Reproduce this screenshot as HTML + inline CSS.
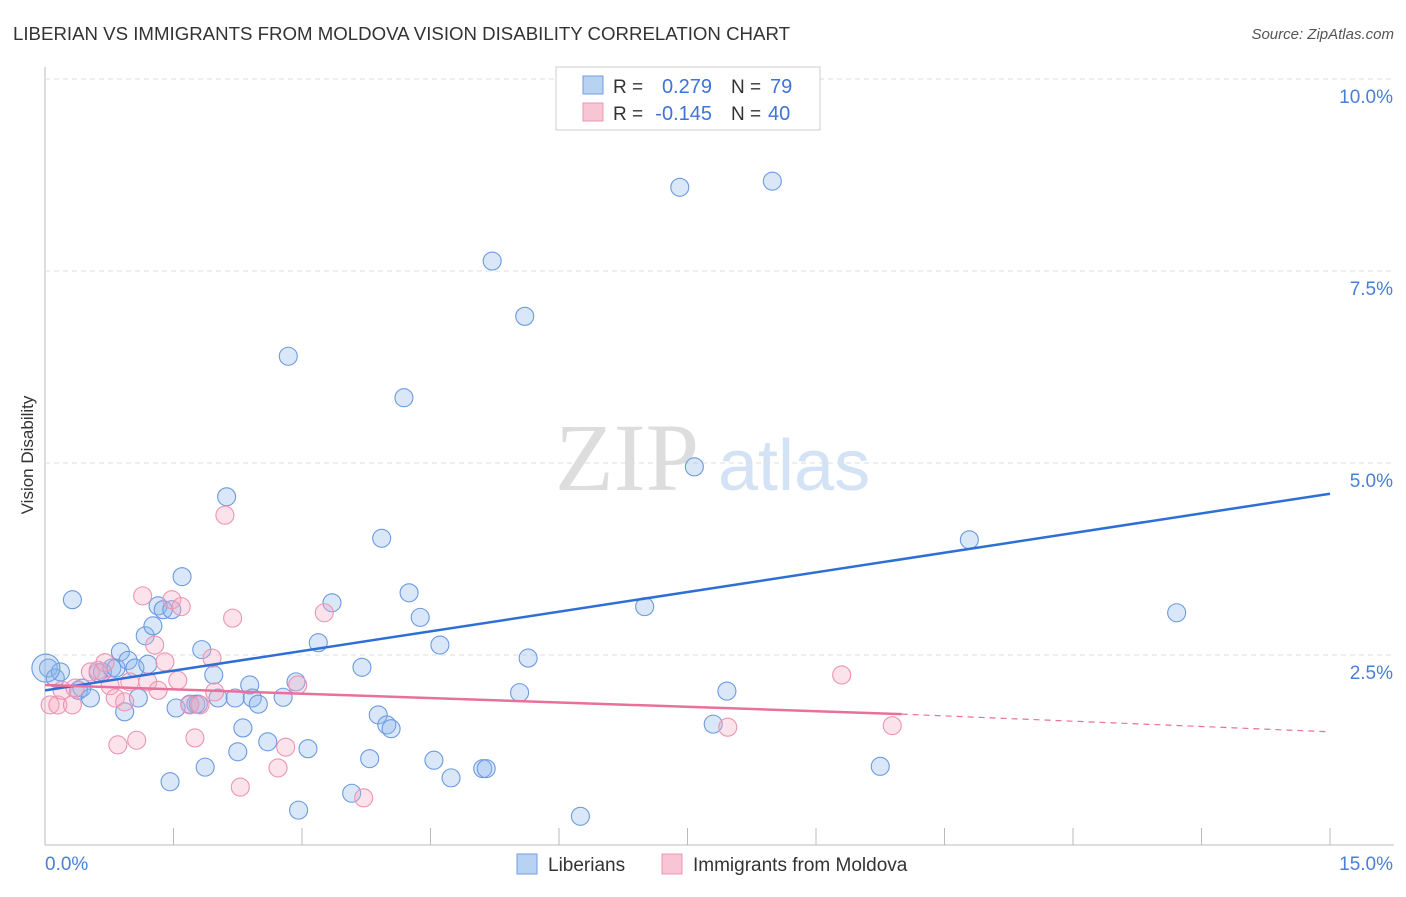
<!DOCTYPE html>
<html><head><meta charset="utf-8"><style>
body{margin:0;background:#fff;font-family:"Liberation Sans",sans-serif}
svg text{font-family:"Liberation Sans",sans-serif}
</style></head><body>
<svg id="c" width="1406" height="892">
<text x="13" y="40" font-size="18" fill="#333" textLength="777" lengthAdjust="spacingAndGlyphs">LIBERIAN VS IMMIGRANTS FROM MOLDOVA VISION DISABILITY CORRELATION CHART</text>
<text x="1394" y="39" font-size="15" fill="#555" font-style="italic" text-anchor="end">Source: ZipAtlas.com</text>
<text x="33" y="455" font-size="17" fill="#333" text-anchor="middle" transform="rotate(-90 33 455)">Vision Disability</text>
<g><text x="555" y="490" font-size="96" fill="#ddd" font-family="Liberation Serif" style="font-family:'Liberation Serif',serif">ZIP</text><text x="718" y="490" font-size="72" fill="#d3e3f5">atlas</text></g>
<g id="grid"></g><g id="pts"></g><g id="lines"></g>
<g>
<rect x="556" y="67" width="264" height="63" fill="#fff" stroke="#ccc"/>
<rect x="583" y="76" width="20" height="18" fill="#b8d2f4" stroke="#6f9ee0"/>
<rect x="583" y="103" width="20" height="18" fill="#f8c5d4" stroke="#ea98b2"/>
<text x="613" y="93" font-size="19" fill="#333">R =</text>
<text x="712" y="93" font-size="20" fill="#3d74d6" text-anchor="end">0.279</text>
<text x="731" y="93" font-size="19" fill="#333">N =</text>
<text x="770" y="93" font-size="20" fill="#3d74d6">79</text>
<text x="613" y="120" font-size="19" fill="#333">R =</text>
<text x="712" y="120" font-size="20" fill="#3d74d6" text-anchor="end">-0.145</text>
<text x="731" y="120" font-size="19" fill="#333">N =</text>
<text x="768" y="120" font-size="20" fill="#3d74d6">40</text>
</g>
<g>
<rect x="517" y="854" width="20" height="20" fill="#b8d2f4" stroke="#6f9ee0"/>
<text x="548" y="871" font-size="19" fill="#333">Liberians</text>
<rect x="662" y="854" width="20" height="20" fill="#f8c5d4" stroke="#ea98b2"/>
<text x="693" y="871" font-size="19" fill="#333">Immigrants from Moldova</text>
</g>
</svg>
<script>
const blueX=[.04,.12,.18,.32,.39,.43,.53,.62,.67,.78,.83,.88,.93,.97,1.05,1.09,1.17,1.20,1.26,1.32,1.38,1.48,1.46,1.53,1.60,1.69,1.76,1.79,1.83,1.87,1.97,2.02,2.12,2.22,2.25,2.31,2.39,2.42,2.49,2.60,2.78,2.84,2.93,2.96,3.07,3.19,3.35,3.58,3.70,3.79,3.89,3.93,3.99,4.04,4.19,4.25,4.38,4.54,4.61,4.74,5.11,5.15,5.22,5.54,5.60,5.64,6.25,7.00,7.41,7.58,7.80,7.96,8.49,9.75,10.79,13.21,.01];
const blueY=[2.33,2.20,2.28,3.22,2.04,2.07,1.94,2.27,2.28,2.33,2.33,2.54,1.76,2.43,2.33,1.94,2.75,2.38,2.88,3.14,3.09,3.09,.85,1.81,3.52,1.86,1.86,1.86,2.57,1.04,2.24,1.94,4.56,1.94,1.24,1.55,2.11,1.94,1.86,1.37,1.95,6.39,2.15,.48,1.28,2.66,3.18,.70,2.34,1.15,1.72,4.02,1.59,1.54,5.85,3.31,2.99,1.13,2.63,.90,1.02,1.02,7.63,2.01,6.91,2.46,.40,3.13,8.59,4.95,1.60,2.03,8.67,1.05,4.00,3.05,2.33];
const pinkX=[.06,.15,.20,.32,.35,.53,.62,.70,.76,.82,.85,.93,.99,1.07,1.14,1.20,1.28,1.32,1.40,1.48,1.55,1.59,1.69,1.75,1.81,1.95,1.98,2.10,2.19,2.28,2.72,2.81,2.95,3.26,3.72,7.97,9.30,9.89];
const pinkY=[1.85,1.85,2.04,1.85,2.07,2.28,2.30,2.40,2.10,1.94,1.33,1.89,2.15,1.39,3.27,2.15,2.63,2.04,2.41,3.22,2.17,3.13,1.85,1.42,1.85,2.46,2.02,4.32,2.98,.78,1.03,1.30,2.11,3.05,.64,1.56,2.24,1.58];
const blueTrend=[2.04,4.60]; // at x=0 and x=15
const pinkTrend=[2.11,1.73,1.50]; // at x=0, x=10, x=15
const yTicks=[2.5,5.0,7.5,10.0];
const xTickVals=[0,1.5,3,4.5,6,7.5,9,10.5,12,13.5,15];
const NS='http://www.w3.org/2000/svg';
const X=v=>45+v*1285/15, Y=v=>847-v*76.8;
function mk(t,a,p){const e=document.createElementNS(NS,t);for(const k in a)e.setAttribute(k,a[k]);p.appendChild(e);return e;}
const g=document.getElementById('grid');
const ax=mk('line',{x1:45,y1:67,x2:45,y2:845,stroke:'#bbb'},g);

const bx=mk('line',{x1:45,y1:845,x2:1394,y2:845,stroke:'#bbb'},g);

yTicks.forEach(v=>{const l=mk('line',{x1:45,x2:1394,y1:Y(v),y2:Y(v),stroke:'#ddd','stroke-dasharray':'5,4'},g);

const t=mk('text',{x:1393,y:Y(v)+24,'font-size':19,fill:'#4a7fd6','text-anchor':'end'},g);t.textContent=v.toFixed(1)+'%';
});
xTickVals.forEach(v=>{const l=mk('line',{x1:X(v),x2:X(v),y1:828,y2:845,stroke:'#bbb'},g);
});
[[0,'0.0%','start',45],[15,'15.0%','end',1393]].forEach(d=>{const t=mk('text',{x:d[3],y:870,'font-size':19,fill:'#4a7fd6','text-anchor':d[2]},g);t.textContent=d[1];
});
const P=document.getElementById('pts');
blueX.forEach((v,i)=>{const c=mk('circle',{cx:X(v),cy:Y(blueY[i]),r:i==blueX.length-1?14:9,fill:'rgba(140,182,238,0.33)',stroke:'#6b9ae0','stroke-width':1.1},P);
});
pinkX.forEach((v,i)=>{const c=mk('circle',{cx:X(v),cy:Y(pinkY[i]),r:9,fill:'rgba(245,170,195,0.33)',stroke:'#ec94b1','stroke-width':1.1},P);
});
const L=document.getElementById('lines');
const b=mk('line',{x1:X(0),y1:Y(blueTrend[0]),x2:X(15),y2:Y(blueTrend[1]),stroke:'#2e6fd6','stroke-width':2.5},L);

const p1=mk('line',{x1:X(0),y1:Y(pinkTrend[0]),x2:X(10),y2:Y(pinkTrend[1]),stroke:'#e8709a','stroke-width':2.5},L);

const p2=mk('line',{x1:X(10),y1:Y(pinkTrend[1]),x2:X(15),y2:Y(pinkTrend[2]),stroke:'#e8709a','stroke-width':1.2,'stroke-dasharray':'6,5'},L);

</script>
</body></html>
